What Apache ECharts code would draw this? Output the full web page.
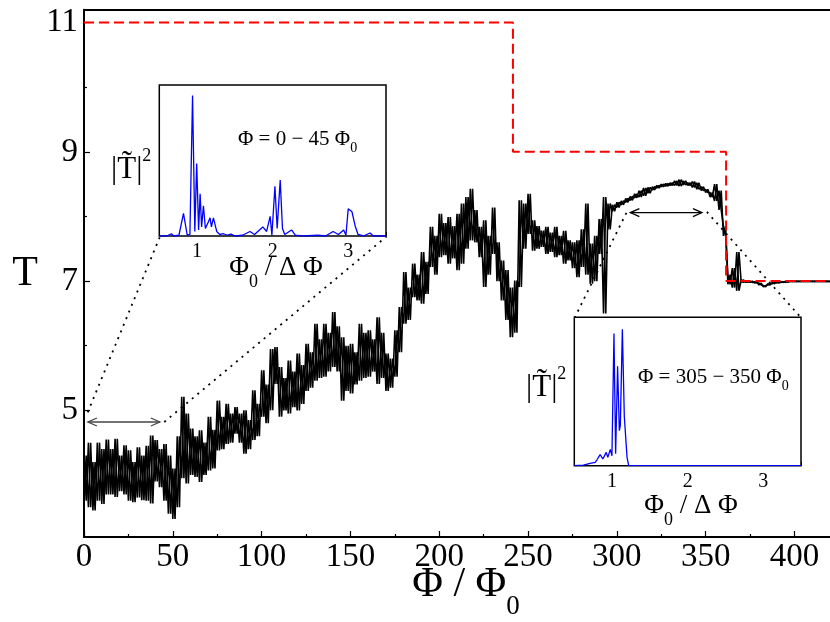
<!DOCTYPE html>
<html><head><meta charset="utf-8">
<script src="https://cdn.jsdelivr.net/npm/echarts@6/dist/echarts.min.js"></script>
<style>html,body{margin:0;padding:0;background:#fff}#c{width:830px;height:622px}</style>
</head><body><div id="c"></div>
<script>
const FONT = '"Liberation Serif","Times New Roman",serif';

// ---- main trace: envelope (high / low) sampled every 2.5 Phi0 ----
const traceStep = 2.5;
const traceHi = [
4.30,4.50,4.20,4.50,4.40,4.55,4.40,4.56,4.30,4.46,4.38,4.20,4.43,4.30,4.45,4.61,4.54,4.40,4.48,4.30,
4.10,4.60,5.21,4.95,4.72,4.60,4.69,4.50,4.90,4.70,5.15,4.90,5.10,4.95,5.05,4.95,5.00,4.85,5.31,5.10,
5.62,5.40,5.95,5.98,5.67,5.50,5.77,5.60,5.88,5.70,6.03,5.90,6.34,6.10,6.34,6.20,6.52,6.30,6.13,6.00,
6.03,5.90,6.34,6.20,6.24,6.10,6.44,6.20,5.88,5.80,6.24,6.60,7.14,6.90,7.27,7.10,7.45,7.30,7.84,7.70,
8.04,7.90,7.99,7.85,8.04,8.20,8.30,8.43,8.10,7.84,7.94,7.70,8.14,7.60,7.32,7.17,6.90,7.01,8.25,8.20,
8.35,7.94,7.85,7.78,7.84,7.75,7.84,7.70,7.78,7.63,7.60,7.63,7.80,8.20,7.58,7.70,7.96,8.30,8.20,8.18,
8.22,8.24,8.28,8.31,8.35,8.40,8.44,8.45,8.46,8.48,8.50,8.51,8.52,8.55,8.57,8.55,8.52,8.54,8.52,8.46,
8.42,8.37,8.50,8.40,7.85,7.10,7.20,7.45,7.02,7.00,7.00,6.99,6.97,6.93,6.96,6.98,6.99,6.99,7.00,7.00,
7.00,7.00,7.00,7.00,7.00,7.00,7.00,7.00,7.00
];
const traceLo = [
3.60,3.50,3.45,3.60,3.55,3.70,3.70,3.66,3.75,3.70,3.60,3.58,3.65,3.61,3.60,3.56,3.90,3.81,3.60,3.40,
3.32,3.50,3.95,3.87,4.00,3.97,3.89,4.00,4.07,4.10,4.38,4.40,4.48,4.50,4.64,4.50,4.33,4.40,4.54,4.60,
4.90,4.80,5.00,5.41,4.90,5.00,4.95,5.05,5.00,5.10,5.30,5.35,5.46,5.50,5.52,5.60,5.67,5.60,5.15,5.30,
5.26,5.40,5.46,5.50,5.52,5.60,5.41,5.50,5.30,5.35,5.52,5.90,6.34,6.40,6.75,6.70,6.65,6.80,7.22,7.10,
7.37,7.40,7.27,7.35,7.17,7.27,7.50,7.63,7.60,7.37,6.91,7.10,7.42,7.00,6.70,6.40,6.13,6.20,6.91,7.50,
7.73,7.47,7.50,7.53,7.42,7.45,7.37,7.40,7.27,7.32,7.20,7.06,7.22,7.10,6.96,7.00,7.42,6.50,7.80,8.08,
8.14,8.18,8.22,8.25,8.29,8.30,8.32,8.36,8.41,8.44,8.46,8.47,8.48,8.48,8.47,8.49,8.48,8.45,8.42,8.40,
8.37,8.30,8.24,8.10,7.70,6.95,6.90,6.85,6.98,6.98,6.98,6.97,6.94,6.91,6.94,6.96,6.97,6.98,6.98,6.99,
6.99,6.99,6.99,6.99,6.99,6.99,6.99,6.99,6.99
];

// ---- red dashed step (number of channels) ----
const stepEdges = [0, 241.5, 361.5, 420];
const stepLevels = [11, 9, 7];

// ---- axis ticks ----
const xLabels = [0, 50, 100, 150, 200, 250, 300, 350, 400];
const xMinor = [25, 75, 125, 175, 225, 275, 325, 375];
const yLabels = [5, 7, 9, 11];
const yMinor = [4, 6, 8, 10];
const insetLabels = [1, 2, 3];

// ---- inset 1 spectrum (Phi = 0-45 Phi0) ----
const inset1X = [0.50,0.60,0.66,0.69,0.76,0.82,0.87,0.905,0.94,0.97,0.995,1.02,1.04,1.06,1.084,1.11,1.15,1.172,1.19,1.216,1.26,1.30,1.35,1.40,1.45,1.50,1.60,1.70,1.76,1.87,1.92,1.967,1.99,2.03,2.06,2.10,2.13,2.16,2.25,2.30,2.40,2.60,2.70,2.80,2.87,2.94,2.97,3.00,3.05,3.09,3.13,3.20,3.29,3.33,3.50];
const inset1Y = [0,0,0.015,0,0.005,0.15,0.005,0.01,0.93,0.03,0.48,0.04,0.28,0.06,0.20,0.05,0.095,0.12,0.06,0.12,0.03,0.01,0.015,0.005,0.012,0,0.005,0.03,0.01,0.06,0.03,0.13,0.005,0.33,0.05,0.37,0.05,0.01,0.04,0.005,0,0.005,0,0.03,0.01,0.04,0.005,0.18,0.16,0.07,0.01,0,0.02,0,0];

// ---- inset 2 spectrum (Phi = 305-350 Phi0) ----
const inset2X = [0.50,0.62,0.71,0.776,0.80,0.842,0.878,0.922,0.944,0.976,0.998,1.025,1.047,1.073,1.096,1.109,1.136,1.162,1.198,1.22,3.50];
const inset2Y = [0,0.004,0.016,0.022,0.04,0.074,0.045,0.09,0.056,0.11,0.067,0.89,0.08,0.67,0.236,0.27,0.92,0.33,0.056,0,0];

// ---- annotations in main data coordinates ----
const arrows = [[2.2, 42.7, 4.82, '#444'], [307.6, 347.9, 8.06, '#000']];
const guides = [
  [[2.1, 4.97], [42.8, 7.69]],
  [[45.2, 4.82], [170.3, 7.69]],
  [[276.2, 6.43], [305.6, 8.07]],
  [[350.7, 8.07], [403.8, 6.43]]
];

// ---------------- build ----------------
const zigA = [], zigB = [];
traceHi.forEach((h, i) => {
  const x = i * traceStep;
  zigA.push([x, traceLo[i]]); zigA.push([x + traceStep / 2, h]);
  zigB.push([x, h]); zigB.push([x + traceStep / 2, traceLo[i]]);
});
const stepData = [];
stepLevels.forEach((t, i) => { stepData.push([stepEdges[i], t]); stepData.push([stepEdges[i + 1], t]); });
const ins1 = inset1X.map((x, i) => [x, inset1Y[i]]);
const ins2 = inset2X.map((x, i) => [x, inset2Y[i]]);

const G1 = {left: 159.3, top: 85, width: 226.7, height: 151};
const G2 = {left: 574.3, top: 317.3, width: 226.7, height: 148.4};

function insetXAxis(gi) {
  return {
    gridIndex: gi, type: 'value', min: 0.5, max: 3.5, interval: 0.5,
    axisLine: {show: false}, splitLine: {show: false},
    axisTick: {inside: true, length: 4, lineStyle: {color: '#000', width: 1}},
    axisLabel: {customValues: insetLabels, fontFamily: FONT, fontSize: 20, color: '#000', margin: 6}
  };
}
function insetYAxis(gi) {
  return {gridIndex: gi, type: 'value', min: 0, max: 1, show: false, splitLine: {show: false}};
}

const rich = {
  big: {fontFamily: FONT, fontSize: 42, color: '#000', padding: [0, 0, 22, 0]},
  bigs: {fontFamily: FONT, fontSize: 27, color: '#000', padding: [22, 0, 0, 0]},
  ax: {fontFamily: FONT, fontSize: 27, color: '#000', padding: [0, 0, 14, 0]},
  axs: {fontFamily: FONT, fontSize: 18, color: '#000', padding: [14, 0, 0, 0]},
  ti: {fontFamily: FONT, fontSize: 21, color: '#000', padding: [0, 0, 9, 0]},
  tis: {fontFamily: FONT, fontSize: 14, color: '#000', padding: [9, 0, 0, 0]},
  tt: {fontFamily: FONT, fontSize: 31, color: '#000', padding: [14, 0, 0, 0]},
  tts: {fontFamily: FONT, fontSize: 18, color: '#000', padding: [0, 0, 14, 0]}
};
function txt(x, y, text, align) {
  return {type: 'text', x: x, y: y, z: 50, style: {text: text, rich: rich, align: align || 'left', verticalAlign: 'middle'}};
}

const chart = echarts.init(document.getElementById('c'), null, {renderer: 'canvas'});
chart.setOption({
  animation: false,
  backgroundColor: '#fff',
  grid: [
    {left: 84, top: 9.7, right: 0, bottom: 85},
    Object.assign({show: true, borderColor: '#000', borderWidth: 1.5, backgroundColor: '#fff', z: 10}, G1),
    Object.assign({show: true, borderColor: '#000', borderWidth: 1.5, backgroundColor: '#fff', z: 10}, G2)
  ],
  xAxis: [
    {gridIndex: 0, type: 'value', min: 0, max: 420, interval: 50,
     axisLine: {lineStyle: {color: '#000', width: 2}},
     axisTick: {inside: true, length: 6, customValues: xLabels, lineStyle: {color: '#000', width: 1.2}},
     axisLabel: {customValues: xLabels, fontFamily: FONT, fontSize: 33, color: '#000', margin: 4},
     splitLine: {show: false}},
    {gridIndex: 0, type: 'value', min: 0, max: 420, position: 'bottom',
     axisLine: {show: false}, axisLabel: {show: false}, splitLine: {show: false},
     axisTick: {inside: true, length: 3, customValues: xMinor, lineStyle: {color: '#000', width: 1.2}}},
    {gridIndex: 0, type: 'value', min: 0, max: 420, position: 'top',
     axisLine: {lineStyle: {color: '#000', width: 2}}, axisTick: {show: false}, axisLabel: {show: false}, splitLine: {show: false}},
    insetXAxis(1), insetXAxis(2)
  ],
  yAxis: [
    {gridIndex: 0, type: 'value', min: 3.04, max: 11.2,
     axisLine: {show: true, lineStyle: {color: '#000', width: 2}},
     axisTick: {show: true, inside: true, length: 6, customValues: yLabels, lineStyle: {color: '#000', width: 1.2}},
     axisLabel: {customValues: yLabels, fontFamily: FONT, fontSize: 33, color: '#000', margin: 6},
     splitLine: {show: false}},
    {gridIndex: 0, type: 'value', min: 3.04, max: 11.2, position: 'left',
     axisLine: {show: false}, axisLabel: {show: false}, splitLine: {show: false},
     axisTick: {show: true, inside: true, length: 3, customValues: yMinor, lineStyle: {color: '#000', width: 1.2}}},
    insetYAxis(1), insetYAxis(2)
  ],
  series: [
    {type: 'line', xAxisIndex: 0, yAxisIndex: 0, data: zigA, showSymbol: false, z: 3,
     lineStyle: {color: '#000', width: 1.6, join: 'bevel'}},
    {type: 'line', xAxisIndex: 0, yAxisIndex: 0, data: zigB, showSymbol: false, z: 3,
     lineStyle: {color: '#000', width: 1.6, join: 'bevel'}},
    {type: 'line', xAxisIndex: 0, yAxisIndex: 0, data: stepData, showSymbol: false, z: 5,
     lineStyle: {color: '#ff0000', width: 2, type: [10, 5]}},
    ...guides.map(g => ({type: 'line', xAxisIndex: 0, yAxisIndex: 0, data: g, showSymbol: false, z: 4,
     lineStyle: {color: '#000', width: 1.8, type: [2, 5.2]}})),
    {type: 'custom', xAxisIndex: 0, yAxisIndex: 0, data: arrows.map(a => [a[0], a[1], a[2]]), z: 6,
     encode: {x: [0, 1], y: 2},
     renderItem: function (params, api) {
       const a = arrows[params.dataIndex];
       const p1 = api.coord([api.value(0), api.value(2)]);
       const p2 = api.coord([api.value(1), api.value(2)]);
       const st = {stroke: a[3], lineWidth: 1.3, fill: null};
       return {type: 'group', children: [
         {type: 'line', shape: {x1: p1[0], y1: p1[1], x2: p2[0], y2: p2[1]}, style: st},
         {type: 'polyline', shape: {points: [[p1[0] + 9, p1[1] - 4], [p1[0], p1[1]], [p1[0] + 9, p1[1] + 4]]}, style: st},
         {type: 'polyline', shape: {points: [[p2[0] - 9, p2[1] - 4], [p2[0], p2[1]], [p2[0] - 9, p2[1] + 4]]}, style: st}
       ]};
     }},
    {type: 'line', xAxisIndex: 3, yAxisIndex: 2, data: ins1, showSymbol: false, z: 12,
     lineStyle: {color: '#0000ff', width: 1.3}},
    {type: 'line', xAxisIndex: 4, yAxisIndex: 3, data: ins2, showSymbol: false, z: 12,
     lineStyle: {color: '#0000ff', width: 1.3}}
  ],
  graphic: [
    {type: 'text', x: 25, y: 274, z: 50, style: {text: 'T', fontFamily: FONT, fontSize: 42, fill: '#000', align: 'center', verticalAlign: 'middle'}},
    txt(466, 596, '{big|Φ / Φ}{bigs|0}', 'center'),
    txt(276, 275, '{ax|Φ}{axs|0}{ax| / Δ Φ}', 'center'),
    txt(691, 513, '{ax|Φ}{axs|0}{ax| / Δ Φ}', 'center'),
    txt(238, 143.5, '{ti|Φ = 0 − 45 Φ}{tis|0}', 'left'),
    txt(638, 382, '{ti|Φ = 305 − 350 Φ}{tis|0}', 'left'),
    txt(111, 163, '{tt||T\u0303|}{tts|2}', 'left'),
    txt(526, 381, '{tt||T\u0303|}{tts|2}', 'left')
  ]
});
</script></body></html>
